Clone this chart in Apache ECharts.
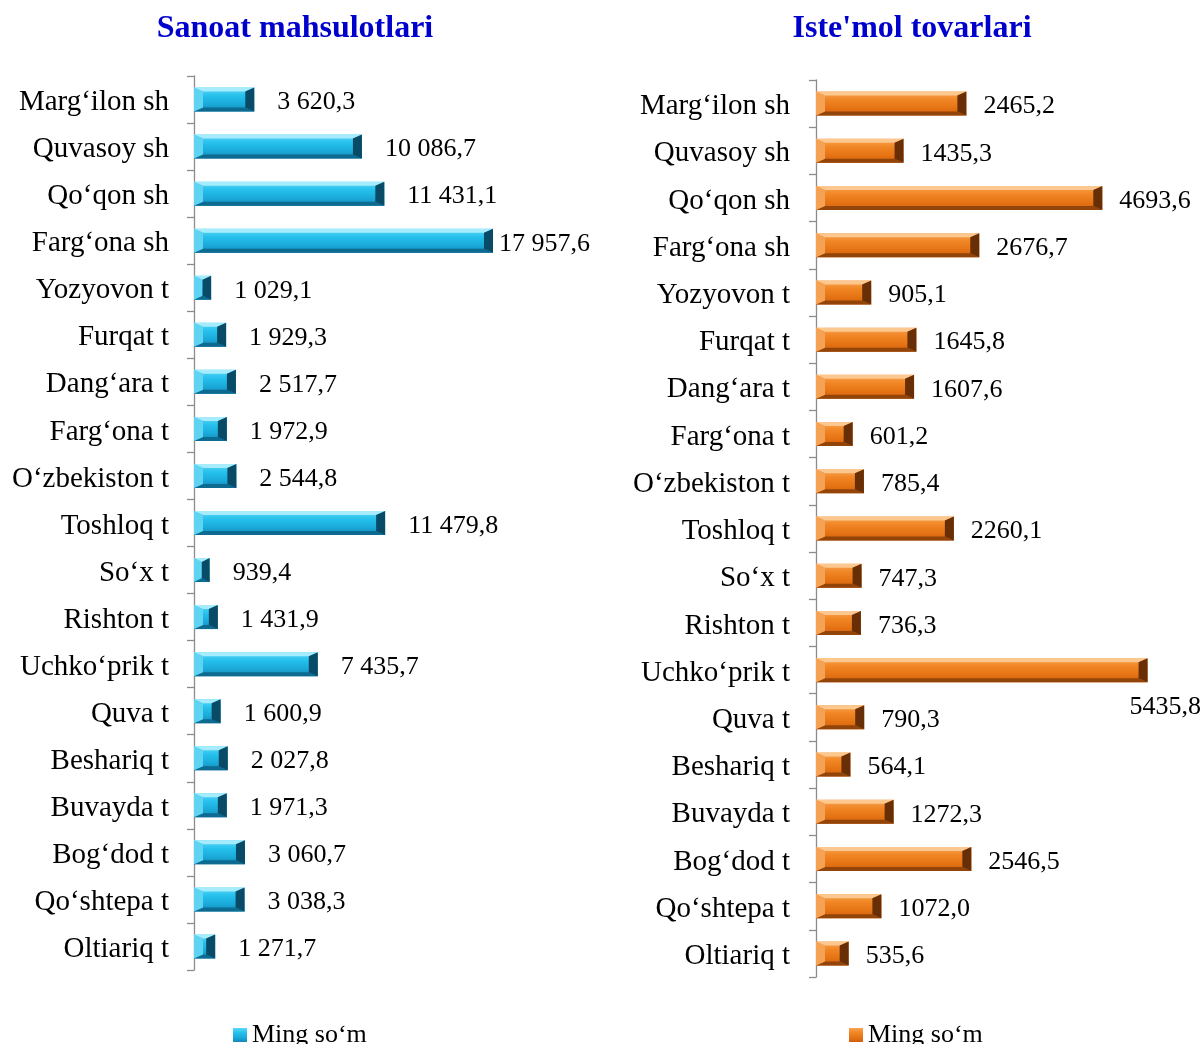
<!DOCTYPE html>
<html>
<head>
<meta charset="utf-8">
<script src="https://cdn.jsdelivr.net/npm/echarts@6/dist/echarts.min.js"></script>
<style>
html,body{margin:0;padding:0;background:#fff;}
#main{width:1202px;height:1044px;}
</style>
</head>
<body>
<div id="main"></div>
<script>
var categories = ['Marg‘ilon sh','Quvasoy sh','Qo‘qon sh','Farg‘ona sh','Yozyovon t','Furqat t','Dang‘ara t','Farg‘ona t','O‘zbekiston t','Toshloq t','So‘x t','Rishton t','Uchko‘prik t','Quva t','Beshariq t','Buvayda t','Bog‘dod t','Qo‘shtepa t','Oltiariq t'];
var sanoatValues = [3620.3,10086.7,11431.1,17957.6,1029.1,1929.3,2517.7,1972.9,2544.8,11479.8,939.4,1431.9,7435.7,1600.9,2027.8,1971.3,3060.7,3038.3,1271.7];
var istemolValues = [2465.2,1435.3,4693.6,2676.7,905.1,1645.8,1607.6,601.2,785.4,2260.1,747.3,736.3,5435.8,790.3,564.1,1272.3,2546.5,1072.0,535.6];
var titles = ['Sanoat mahsulotlari', "Iste'mol tovarlari"];
var seriesName = 'Ming so‘m';

function fmtSpaced(v){
  var s = v.toFixed(1).split('.');
  var ip = s[0].replace(/\B(?=(\d{3})+(?!\d))/g, ' ');
  return ip + ',' + s[1];
}
function fmtPlain(v){ return v.toFixed(1).replace('.', ','); }

var FONT = '"Liberation Serif","Times New Roman",serif';
var BAR_H = 24;

function grad(stops){
  return new echarts.graphic.LinearGradient(0,0,0,1, stops.map(function(s){return {offset:s[0], color:s[1]};}));
}

var cyan = {face:[[0,'#5cd8f7'],[0.35,'#25c0ec'],[0.7,'#1aa9d8'],[1,'#1288b5']], top:'#a6ecfc', bottom:'#0d6a90', left:'#5fd3f2', right:'#094b67'};
var orange = {face:[[0,'#f9a552'],[0.35,'#f08524'],[0.7,'#e57314'],[1,'#cf600e']], top:'#fcc88f', bottom:'#934509', left:'#f6a255', right:'#682f06'};

function bevelRender(c){
  return function(params, api){
    var idx = api.value(1), val = api.value(0);
    var p0 = api.coord([0, idx]), p1 = api.coord([val, idx]);
    var x0 = p0[0], x1 = p1[0], yc = p1[1];
    var y0 = yc - BAR_H/2, y1 = yc + BAR_H/2;
    var w = x1 - x0;
    var b = Math.min(9, w/2), bv = 4;
    return {type:'group', silent:true, children:[
      {type:'polygon', shape:{points:[[x0,y0],[x1,y0],[x1-b,y0+bv],[x0+b,y0+bv]]}, style:{fill:c.top}},
      {type:'polygon', shape:{points:[[x0,y1],[x1,y1],[x1-b,y1-bv],[x0+b,y1-bv]]}, style:{fill:c.bottom}},
      {type:'polygon', shape:{points:[[x0,y0],[x0+b,y0+bv],[x0+b,y1-bv],[x0,y1]]}, style:{fill:c.left}},
      {type:'polygon', shape:{points:[[x1,y0],[x1-b,y0+bv],[x1-b,y1-bv],[x1,y1]]}, style:{fill:c.right}}
    ]};
  };
}

var chart = echarts.init(document.getElementById('main'), null, {renderer:'canvas'});

var axisLineStyle = {lineStyle:{color:'#8c8c8c', width:1.3}};
var catRich = {c:{fontFamily:FONT, fontSize:29, color:'#000', padding:[6,0,0,0]}};

var sanoatData = sanoatValues.map(function(v, i){
  if (i === 3) { return {value: v, label: {offset: [-17, 3]}}; }
  return v;
});
var istemolData = istemolValues.map(function(v, i){
  if (i === 12) { return {value: v, label: {offset: [-35, 37]}}; }
  return v;
});

var option = {
  backgroundColor:'#ffffff',
  animation:false,
  title:[
    {text:titles[0], left:290, textAlign:'center', top:8, textStyle:{fontFamily:FONT, fontSize:32, fontWeight:'bold', color:'#0000cc'}},
    {text:titles[1], left:907, textAlign:'center', top:8, textStyle:{fontFamily:FONT, fontSize:32, fontWeight:'bold', color:'#0000cc'}}
  ],
  legend:[
    {data:[seriesName], left:228, top:1017, itemWidth:14, itemHeight:14, itemGap:6, icon:'rect',
     textStyle:{fontFamily:FONT, fontSize:26, color:'#000'}, selectedMode:false, formatter:function(){return seriesName;}},
    {data:[seriesName + ' '], left:844, top:1017, itemWidth:14, itemHeight:14, itemGap:6, icon:'rect',
     textStyle:{fontFamily:FONT, fontSize:26, color:'#000'}, selectedMode:false, formatter:function(){return seriesName;}}
  ],
  grid:[
    {left:194, top:76, width:333, height:894, containLabel:false},
    {left:816, top:80, width:366, height:897, containLabel:false}
  ],
  xAxis:[
    {gridIndex:0, type:'value', min:0, max:20000, show:false},
    {gridIndex:1, type:'value', min:0, max:6000, show:false}
  ],
  yAxis:[
    {gridIndex:0, type:'category', data:categories, inverse:true,
     axisLine:axisLineStyle, axisTick:{show:true, length:7, lineStyle:{color:'#8c8c8c', width:1.3}},
     axisLabel:{margin:25, fontFamily:FONT, fontSize:29, color:'#000', formatter:function(v){return '{c|' + v + '}';}, rich:catRich}, splitLine:{show:false}},
    {gridIndex:1, type:'category', data:categories, inverse:true,
     axisLine:axisLineStyle, axisTick:{show:true, length:7, lineStyle:{color:'#8c8c8c', width:1.3}},
     axisLabel:{margin:26, fontFamily:FONT, fontSize:29, color:'#000', formatter:function(v){return '{c|' + v + '}';}, rich:catRich}, splitLine:{show:false}}
  ],
  series:[
    {name:seriesName, type:'bar', xAxisIndex:0, yAxisIndex:0, data:sanoatData, barWidth:BAR_H,
     itemStyle:{color:grad(cyan.face)},
     label:{show:true, position:'right', distance:23, offset:[0,3], fontFamily:FONT, fontSize:26, color:'#000',
            formatter:function(p){return fmtSpaced(p.value);}}},
    {name:'bevel1', type:'custom', xAxisIndex:0, yAxisIndex:0, z:3,
     data:sanoatValues.map(function(v,i){return [v,i];}), encode:{x:0, y:1},
     renderItem:bevelRender(cyan)},
    {name:seriesName + ' ', type:'bar', xAxisIndex:1, yAxisIndex:1, data:istemolData, barWidth:BAR_H,
     itemStyle:{color:grad(orange.face)},
     label:{show:true, position:'right', distance:17, offset:[0,3], fontFamily:FONT, fontSize:26, color:'#000',
            formatter:function(p){return fmtPlain(p.value);}}},
    {name:'bevel2', type:'custom', xAxisIndex:1, yAxisIndex:1, z:3,
     data:istemolValues.map(function(v,i){return [v,i];}), encode:{x:0, y:1},
     renderItem:bevelRender(orange)}
  ]
};
chart.setOption(option);
</script>
</body>
</html>
